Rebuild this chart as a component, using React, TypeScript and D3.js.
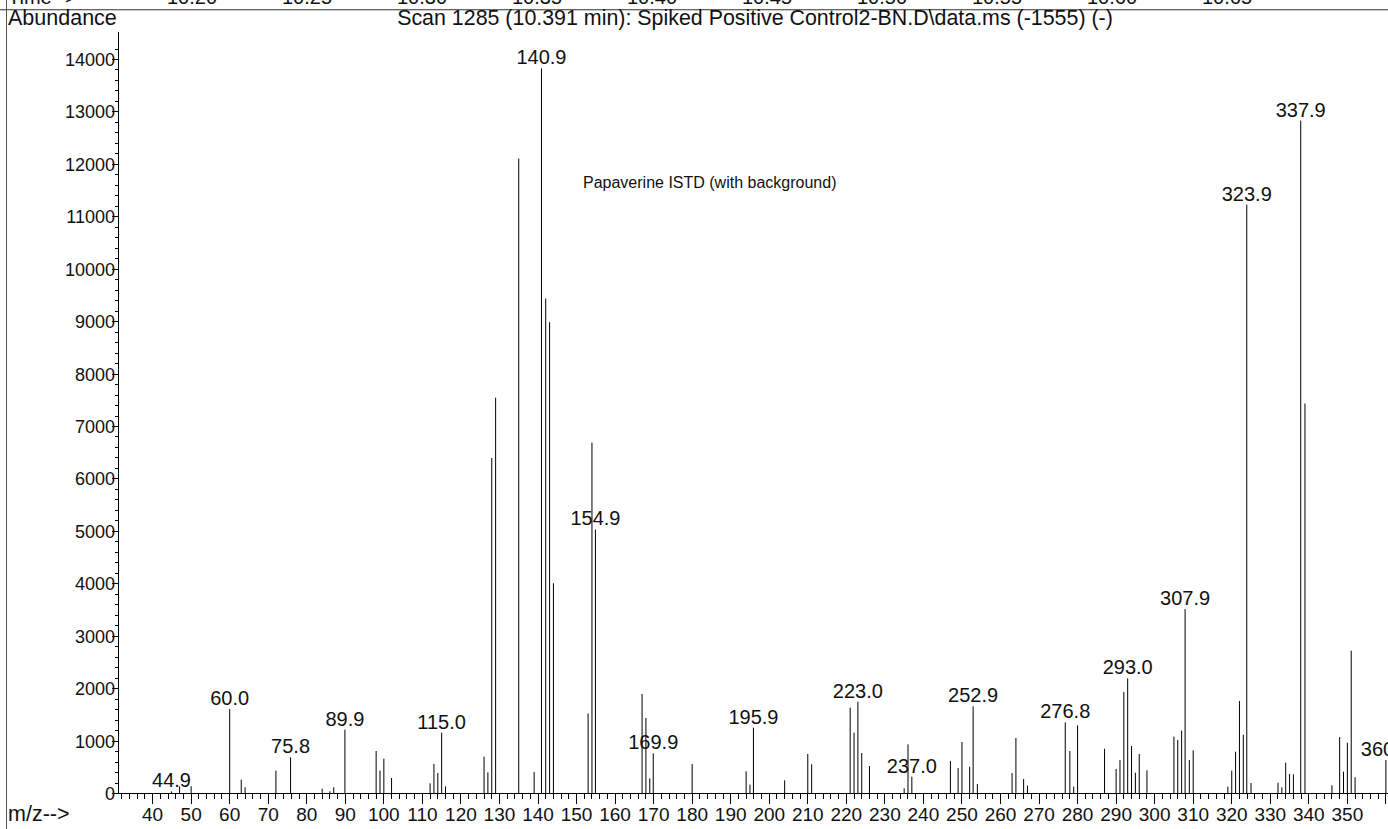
import React from "react";
import * as d3 from "d3";

// ---- data ----
const masses = [
  44.9, 47, 50, 60.0, 63, 64, 72, 75.8, 84, 86, 87, 89.9, 98, 99, 100, 102,
  112, 113, 114, 115.0, 116, 126, 127, 128, 129, 135, 139, 140.9, 142, 143, 144,
  153, 154, 154.9, 167, 168, 169, 169.9, 180, 194, 195, 195.9, 204, 210, 211,
  221, 222, 223.0, 224, 226, 235, 236, 237.0, 247, 249, 250, 252, 252.9, 254,
  263, 264, 266, 267, 276.8, 278, 279, 280, 287, 290, 291, 292, 293.0, 294, 295,
  296, 298, 305, 306, 307, 307.9, 309, 310, 319, 320, 321, 322, 323, 323.9, 325,
  332, 333, 334, 335, 336, 337.9, 339, 346, 348, 349, 350, 351, 352, 360.0,
];
const intensities = [
  30, 127, 127, 1600, 254, 108, 426, 680, 83, 32, 108, 1208, 801, 426, 655, 286,
  184, 553, 381, 1151, 127, 693, 394, 6390, 7540, 12100, 400, 13820, 9430, 8980, 4000,
  1516, 6685, 5026, 1888, 1430, 280, 756, 553, 413, 159, 1246, 242, 744, 547,
  1627, 1151, 1742, 763, 515, 89, 928, 311, 610, 477, 973, 502, 1653, 172,
  381, 1049, 267, 140, 1348, 801, 121, 1290, 845, 458, 629, 1926, 2187, 896, 388,
  744, 432, 1074, 1011, 1189, 3509, 629, 814, 121, 426, 788, 1755, 1112, 11224, 191,
  197, 108, 578, 362, 356, 12826, 7430, 146, 1068, 407, 960, 2714, 299, 629,
];
const labeledMasses = [
  44.9, 60.0, 75.8, 89.9, 115.0, 140.9, 154.9, 169.9, 195.9, 223.0, 237.0, 252.9,
  276.8, 293.0, 307.9, 323.9, 337.9, 360.0,
];
const yTickValues = [0, 1000, 2000, 3000, 4000, 5000, 6000, 7000, 8000, 9000, 10000, 11000, 12000, 13000, 14000];
const xTickLabels = [40, 50, 60, 70, 80, 90, 100, 110, 120, 130, 140, 150, 160, 170, 180, 190, 200, 210, 220, 230, 240, 250, 260, 270, 280, 290, 300, 310, 320, 330, 340, 350];
const timeLabels = ["10.20", "10.25", "10.30", "10.35", "10.40", "10.45", "10.50", "10.55", "10.60", "10.65"];

const titleText = "Scan 1285 (10.391 min): Spiked Positive Control2-BN.D\\data.ms (-1555) (-)";
const noteText = "Papaverine ISTD (with background)";

const W = 1388;
const H = 829;
const FONT = "'Liberation Sans', Arial, Helvetica, sans-serif";

export default function App() {
  const x = d3.scaleLinear().domain([40, 360]).range([152.6, 1385.9]);
  const y = d3.scaleLinear().domain([0, 14000]).range([793, 59]);
  const t = d3.scaleLinear().domain([10.2, 10.65]).range([192, 1227]);
  const axisX0 = 118;
  const y0 = y(0);

  const xMinor = d3.range(32, 361, 2).filter((v) => v % 10 !== 0);
  const xMajor = d3.range(40, 361, 10);
  const yMinor = d3.range(0, 14201, 200).filter((v) => v % 1000 !== 0);

  return (
    <svg
      width={W}
      height={H}
      viewBox={`0 0 ${W} ${H}`}
      style={{ position: "absolute", left: 0, top: 0, display: "block", background: "#fff" }}
      fontFamily={FONT}
    >
      <rect x={0} y={0} width={W} height={H} fill="#fff" />
      {/* top time strip (cut off at the top edge, as in the reference) */}
      <text x={8} y={4} fontSize={20} fill="#111">Time--&gt;</text>
      {timeLabels.map((s) => (
        <text key={s} x={t(+s)} y={4} fontSize={20} textAnchor="middle" fill="#111">{s}</text>
      ))}
      <line x1={0} x2={W} y1={9.5} y2={9.5} stroke="#666" strokeWidth={1} />
      <line x1={0} x2={W} y1={10.5} y2={10.5} stroke="#c8c8c8" strokeWidth={1} />
      <line x1={6.5} x2={6.5} y1={0} y2={H} stroke="#555" strokeWidth={1} />

      {/* header */}
      <text x={8} y={25} fontSize={21.5} fill="#111">Abundance</text>
      <text x={755} y={25} fontSize={21.4} textAnchor="middle" fill="#111">{titleText}</text>
      <text x={583} y={188} fontSize={16} fill="#111">{noteText}</text>

      {/* y axis */}
      <g shapeRendering="crispEdges" stroke="#000">
        <line x1={axisX0} x2={axisX0} y1={32} y2={y0} />
        {yTickValues.map((v) => (
          <line key={v} x1={axisX0 - 6} x2={axisX0} y1={Math.round(y(v)) + 0.5} y2={Math.round(y(v)) + 0.5} />
        ))}
        {yMinor.map((v) => (
          <line key={v} x1={axisX0 - 3} x2={axisX0} y1={Math.round(y(v)) + 0.5} y2={Math.round(y(v)) + 0.5} />
        ))}
      </g>
      {yTickValues.map((v) => (
        <text key={v} x={axisX0 - 3} y={y(v) + 7} fontSize={18} textAnchor="end" fill="#111">{v}</text>
      ))}

      {/* x axis */}
      <g shapeRendering="crispEdges" stroke="#000">
        <line x1={axisX0} x2={W} y1={y0 + 0.5} y2={y0 + 0.5} />
        {xMinor.map((v) => (
          <line key={v} x1={x(v)} x2={x(v)} y1={y0} y2={y0 + 6} />
        ))}
        {xMajor.map((v) => (
          <line key={v} x1={x(v)} x2={x(v)} y1={y0} y2={y0 + 11} />
        ))}
      </g>
      {xTickLabels.map((v) => (
        <text key={v} x={x(v)} y={821} fontSize={19} textAnchor="middle" fill="#111">{v}</text>
      ))}
      <text x={8} y={821} fontSize={21.5} fill="#111">m/z--&gt;</text>

      {/* spectrum stems */}
      <g stroke="#000" strokeWidth={1}>
        {masses.map((m, i) => (
          <line key={m} x1={x(m)} x2={x(m)} y1={y0} y2={y(intensities[i])} />
        ))}
      </g>

      {/* peak labels */}
      {labeledMasses.map((m) => {
        const i = masses.indexOf(m);
        return (
          <text key={m} x={x(m)} y={y(intensities[i]) - 4} fontSize={20} textAnchor="middle" fill="#111">
            {m.toFixed(1)}
          </text>
        );
      })}
    </svg>
  );
}
